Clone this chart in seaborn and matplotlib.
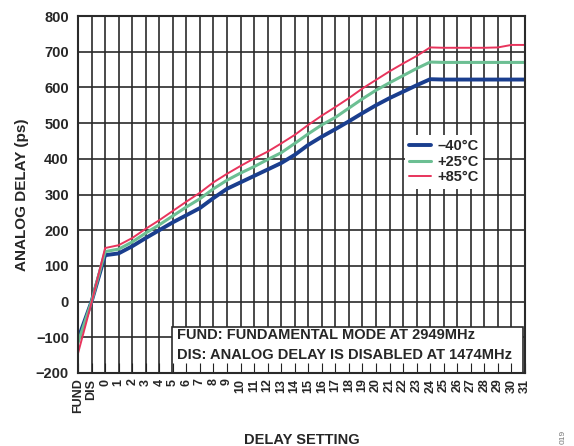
import matplotlib
matplotlib.use("Agg")
import matplotlib.pyplot as plt
import pandas as pd
import seaborn as sns
from matplotlib.patches import Rectangle

SETTINGS = ["FUND", "DIS"] + [str(i) for i in range(32)]

DELAY_M40 = [-105, 0, 130, 135, 155, 178, 200, 222, 242, 262, 290, 316, 334, 352, 370, 388,
             411, 439, 462, 483, 505, 528, 550, 570, 588, 606, 623, 622, 622, 622, 622, 622, 622, 622]
DELAY_P25 = [-115, 0, 140, 147, 167, 192, 215, 240, 265, 288, 316, 340, 360, 378, 398, 417,
             443, 470, 495, 516, 542, 568, 592, 613, 633, 653, 671, 670, 670, 670, 670, 670, 670, 670]
DELAY_P85 = [-145, -3, 150, 158, 178, 204, 228, 254, 280, 305, 334, 358, 380, 401, 420, 443,
             467, 495, 521, 545, 570, 597, 621, 645, 667, 688, 712, 711, 711, 711, 711, 712, 719, 719]

TEMPS = ["\u201340°C", "+25°C", "+85°C"]
COLORS = {TEMPS[0]: "#1a3e8e", TEMPS[1]: "#6cbf93", TEMPS[2]: "#e8345c"}
WIDTHS = {TEMPS[0]: 2.8, TEMPS[1]: 2.2, TEMPS[2]: 1.4}
Y_TICKS = list(range(-200, 801, 100))
NOTE_LINES = ["FUND: FUNDAMENTAL MODE AT 2949MHz", "DIS: ANALOG DELAY IS DISABLED AT 1474MHz"]

frames = []
for temp, vals in zip(TEMPS, [DELAY_M40, DELAY_P25, DELAY_P85]):
    frames.append(pd.DataFrame({"pos": range(len(SETTINGS)), "delay": vals, "temp": temp}))
df = pd.concat(frames, ignore_index=True)

sns.set_style("white")
plt.rcParams["font.family"] = ["Liberation Sans", "DejaVu Sans"]
plt.rcParams["font.weight"] = "bold"

fig = plt.figure(figsize=(5.74, 4.46), dpi=100)
ax = fig.add_axes([0.1359, 0.1637, 0.7787, 0.8004])

# grid drawn by hand so the tick marks can sit above the note box
grid_col = "#2a2a2a"
ax.vlines(range(len(SETTINGS)), -200, 800, color=grid_col, linewidth=1.2, zorder=0.5)
ax.hlines(Y_TICKS, 0, len(SETTINGS) - 1, color=grid_col, linewidth=1.2, zorder=0.5)

sns.lineplot(data=df, x="pos", y="delay", hue="temp", size="temp", palette=COLORS,
             sizes=WIDTHS, hue_order=TEMPS, size_order=TEMPS, ax=ax, legend=False, zorder=2)

ax.set_axisbelow(False)
ax.set_xlim(0, len(SETTINGS) - 1)
ax.set_ylim(-200, 800)
ax.set_xticks(range(len(SETTINGS)))
ax.set_xticklabels(SETTINGS, rotation=90, fontsize=9, fontweight="bold")
ax.set_yticks(Y_TICKS)
ax.tick_params(axis="y", labelsize=10.5, length=0, pad=6.5)
ax.tick_params(axis="x", bottom=True, direction="in", length=7, width=0.8, pad=4, color="#222222")
for lbl in ax.get_yticklabels():
    lbl.set_fontweight("bold")

for sp in ax.spines.values():
    sp.set_color(grid_col)
    sp.set_linewidth(1.5)
    sp.set_zorder(3)

ax.set_xlabel("DELAY SETTING", fontsize=10.5, fontweight="bold", labelpad=14)
ax.set_ylabel("ANALOG DELAY (ps)", fontsize=11, fontweight="bold", labelpad=5)

handles = [plt.Line2D([], [], color=COLORS[t], linewidth=WIDTHS[t]) for t in TEMPS]
leg = ax.legend(handles, TEMPS, loc="upper left", bbox_to_anchor=(0.7315, 0.667),
                frameon=True, fancybox=False, framealpha=1, edgecolor="white",
                prop={"weight": "bold", "size": 10.5}, handlelength=1.5,
                labelspacing=0.1, borderpad=0.3, handletextpad=0.4, borderaxespad=0)
leg.get_frame().set_linewidth(0)
leg.set_zorder(5)

ax.add_patch(Rectangle((0.2103, 0.0), 0.7852, 0.129, transform=ax.transAxes,
                       facecolor="white", edgecolor=grid_col, linewidth=1.2, zorder=2.2))
for ypos, line in zip([0.106, 0.050], NOTE_LINES):
    ax.text(0.2215, ypos, line, transform=ax.transAxes, fontsize=10.5, fontweight="bold",
            ha="left", va="center", zorder=2.3)

fig.text(0.975, 0.01, "019", rotation=90, fontsize=6, color="#777777", fontweight="normal")

fig.savefig("out.png", dpi=100)
